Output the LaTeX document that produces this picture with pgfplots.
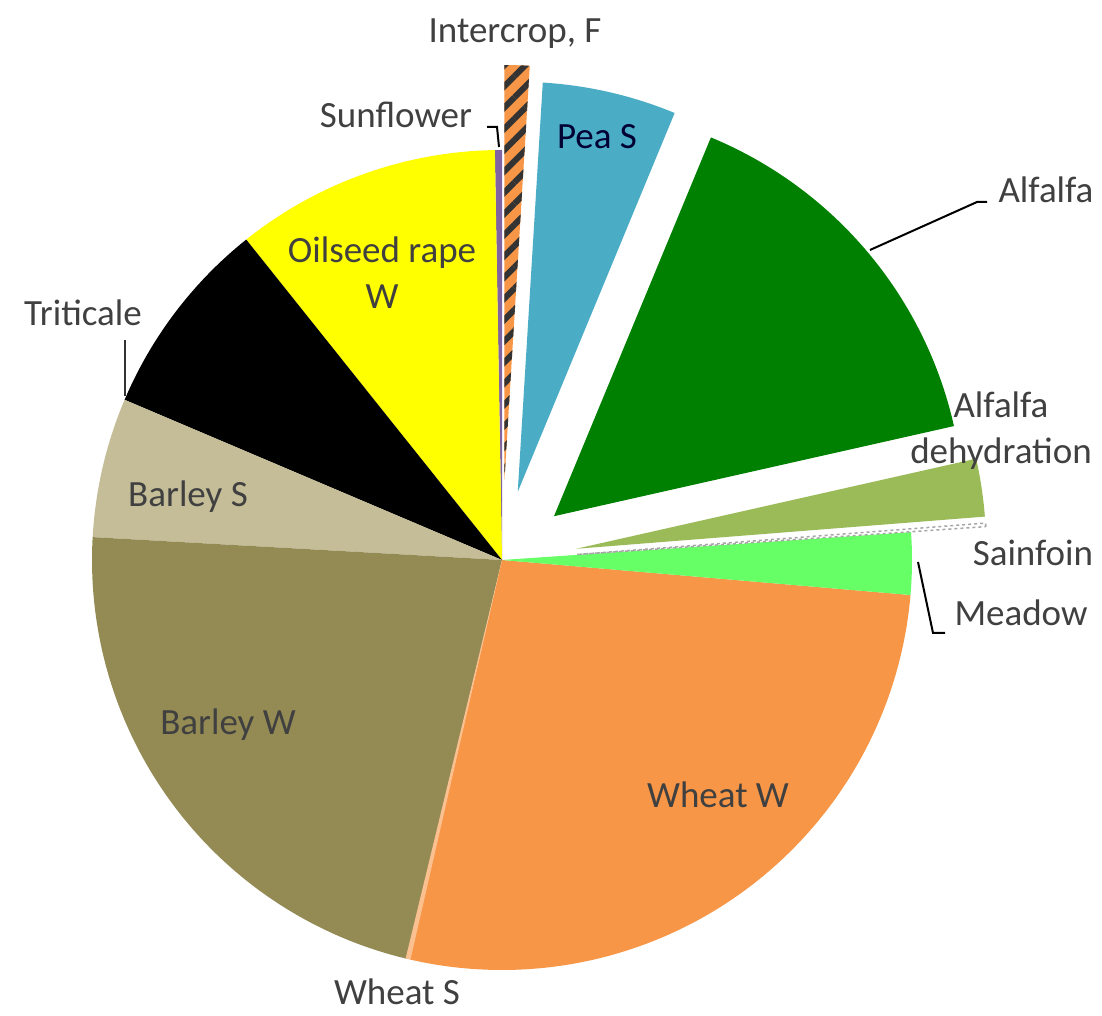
\documentclass[border=0pt]{standalone}
\usepackage{pgfplots}
\pgfplotsset{compat=1.18}
\usepackage{fontspec}
\setmainfont{Carlito}
\usetikzlibrary{patterns,patterns.meta}
\definecolor{cPea}{HTML}{4BACC6}
\definecolor{cAlf}{HTML}{008000}
\definecolor{cDeh}{HTML}{9BBB59}
\definecolor{cMea}{HTML}{66FF66}
\definecolor{cWhW}{HTML}{F79646}
\definecolor{cWhS}{HTML}{FAC090}
\definecolor{cBaW}{HTML}{948A54}
\definecolor{cBaS}{HTML}{C4BD97}
\definecolor{cOil}{HTML}{FFFF00}
\definecolor{cSun}{HTML}{8064A2}
\definecolor{cTxt}{HTML}{404040}
\tikzset{lab/.style={font=\fontsize{37}{46}\selectfont, text=cTxt, inner sep=0pt}}
\begin{document}
\begin{tikzpicture}
\begin{axis}[x=1pt, y=1pt, xmin=0, xmax=1102, ymin=0, ymax=1015,
  hide axis, clip=false]
\path (axis cs:0,0) rectangle (axis cs:1102,1015);
% Slices: start/end angles (deg), centre offset for exploded slices, radius 410
% Sunflower
\addplot[fill=cSun, draw=none, domain=90:91, samples=10] ({502+410*cos(x)},{455+410*sin(x)}) -- (axis cs:502,455) -- cycle;
% Oilseed rape W
\addplot[fill=cOil, draw=none, domain=91:128.6, samples=80] ({502+410*cos(x)},{455+410*sin(x)}) -- (axis cs:502,455) -- cycle;
% Triticale
\addplot[fill=black, draw=none, domain=128.6:157, samples=80] ({502+410*cos(x)},{455+410*sin(x)}) -- (axis cs:502,455) -- cycle;
% Barley S
\addplot[fill=cBaS, draw=none, domain=157:176.8, samples=60] ({502+410*cos(x)},{455+410*sin(x)}) -- (axis cs:502,455) -- cycle;
% Barley W
\addplot[fill=cBaW, draw=none, domain=176.8:256.6, samples=120] ({502+410*cos(x)},{455+410*sin(x)}) -- (axis cs:502,455) -- cycle;
% Wheat W
\addplot[fill=cWhW, draw=none, domain=257:355.1, samples=140] ({502+410*cos(x)},{455+410*sin(x)}) -- (axis cs:502,455) -- cycle;
% Wheat S
\addplot[fill=cWhS, draw=none, domain=256.4:257.1, samples=10] ({502+410*cos(x)},{455+410*sin(x)}) -- (axis cs:502,455) -- cycle;
% Meadow
\addplot[fill=cMea, draw=none, domain=-4.9:3.9, samples=40] ({502+410*cos(x)},{455+410*sin(x)}) -- (axis cs:502,455) -- cycle;
% Sainfoin (exploded)
\addplot[fill=white, draw=gray!70, dashed, line width=1.5pt, domain=3.9:4.4, samples=10] ({576.80+410*cos(x)},{460.49+410*sin(x)}) -- (axis cs:576.80,460.49) -- cycle;
% Alfalfa dehydration (exploded)
\addplot[fill=cDeh, draw=none, domain=4.5:12.7, samples=40] ({576.16+410*cos(x)},{466.22+410*sin(x)}) -- (axis cs:576.16,466.22) -- cycle;
% Alfalfa (exploded)
\addplot[fill=cAlf, draw=none, domain=12.7:67.5, samples=100] ({554.01+410*cos(x)},{498.80+410*sin(x)}) -- (axis cs:554.01,498.80) -- cycle;
% Pea S (exploded)
\addplot[fill=cPea, draw=none, domain=67.5:86.5, samples=60] ({517.75+410*cos(x)},{523.21+410*sin(x)}) -- (axis cs:517.75,523.21) -- cycle;
% Intercrop, F (exploded)
\addplot[fill=cWhW, draw=none, postaction={pattern={Lines[angle=45,distance=15pt,line width=6pt]}, pattern color=black!80}, domain=86.5:90, samples=20] ({504.44+415*cos(x)},{534.96+415*sin(x)}) -- (axis cs:504.44,534.96) -- cycle;
% leader lines
\addplot[black, line width=2pt] coordinates {(487,888) (497,888) (499,868)};
\addplot[black, line width=2pt] coordinates {(987,813) (977,813) (870,765)};
\addplot[black, line width=2pt] coordinates {(945,382) (933,382) (918,453)};
\addplot[black!80, line width=2pt] coordinates {(125,675) (125,619)};
% labels
\node[lab] at (axis cs:515,981) {Intercrop, F};
\node[lab] at (axis cs:396,900) {Sunflower};
\node[lab, text=black!80!blue] at (axis cs:597,878) {Pea S};
\node[lab] at (axis cs:1046,825) {Alfalfa};
\node[lab, align=center] at (axis cs:1001,584) {Alfalfa\\dehydration};
\node[lab] at (axis cs:1033,462) {Sainfoin};
\node[lab] at (axis cs:1021,402) {Meadow};
\node[lab] at (axis cs:83,702) {Triticale};
\node[lab, align=center] at (axis cs:382,742) {Oilseed rape\\W};
\node[lab] at (axis cs:188,518) {Barley S};
\node[lab] at (axis cs:228,290) {Barley W};
\node[lab] at (axis cs:718,220) {Wheat W};
\node[lab] at (axis cs:397,23) {Wheat S};
\end{axis}
\end{tikzpicture}
\end{document}
